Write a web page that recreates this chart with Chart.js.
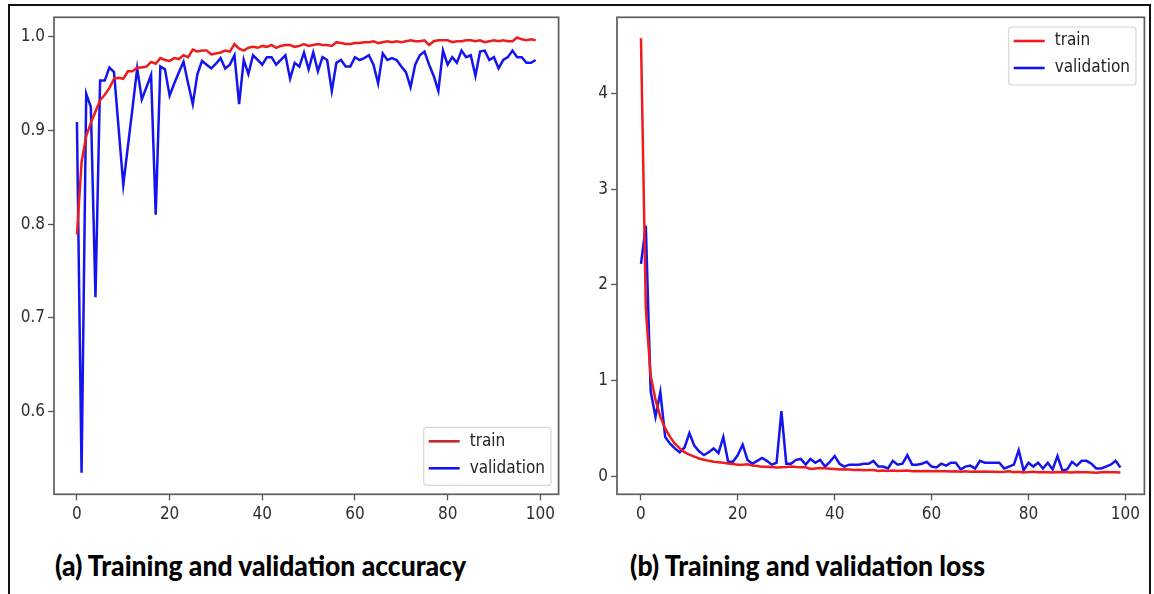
<!DOCTYPE html>
<html>
<head>
<meta charset="utf-8">
<script src="https://cdn.jsdelivr.net/npm/chart.js@4.4.1/dist/chart.umd.min.js"></script>
<style>
  html, body { margin: 0; padding: 0; background: #fff; width: 1154px; height: 594px; overflow: hidden; }
  #frame { position: absolute; left: 8px; top: 4px; width: 1143px; height: 620px; border: 2px solid #111; box-sizing: border-box; }
  canvas { position: absolute; }
  .cap { position: absolute; top: 547px; font-family: 'Lato', 'Open Sans', sans-serif; font-weight: 900; font-size: 29px; line-height: 36px; color: #000; white-space: nowrap; transform-origin: 0 0; }
</style>
</head>
<body>
<div id="frame"></div>
<canvas id="accChart" width="577" height="540" style="left:0;top:0"></canvas>
<canvas id="lossChart" width="577" height="540" style="left:577px;top:0"></canvas>
<div class="cap" id="capA" data-w="411" style="left:55px">(a) Training and validation accuracy</div>
<div class="cap" id="capB" data-w="355" style="left:630px">(b) Training and validation loss</div>
<script>
// ---------- data ----------
const epochs = Array.from({length: 100}, (_, i) => i);
const seriesNames = ['train', 'validation'];

const trainAcc = [0.789,0.866,0.894,0.908,0.920,0.932,0.938,0.945,0.955,0.956,
  0.955,0.963,0.963,0.967,0.967,0.968,0.973,0.971,0.977,0.975,
  0.974,0.977,0.976,0.980,0.978,0.986,0.984,0.985,0.985,0.981,
  0.982,0.983,0.985,0.984,0.992,0.987,0.985,0.988,0.989,0.988,
  0.990,0.989,0.991,0.988,0.990,0.991,0.991,0.989,0.990,0.992,
  0.990,0.991,0.992,0.991,0.991,0.990,0.994,0.993,0.992,0.992,
  0.993,0.993,0.994,0.994,0.995,0.993,0.994,0.995,0.994,0.995,
  0.994,0.995,0.996,0.995,0.995,0.996,0.991,0.995,0.996,0.996,
  0.996,0.994,0.995,0.995,0.996,0.996,0.995,0.996,0.994,0.995,
  0.996,0.995,0.996,0.995,0.995,0.999,0.997,0.996,0.997,0.996];

const valAcc = [0.909,0.535,0.939,0.925,0.722,0.953,0.953,0.967,0.962,0.902,
  0.842,0.883,0.924,0.966,0.933,0.946,0.959,0.810,0.968,0.965,
  0.937,0.950,0.962,0.973,0.950,0.928,0.960,0.974,0.970,0.966,
  0.971,0.977,0.966,0.970,0.980,0.928,0.975,0.960,0.980,0.975,
  0.970,0.978,0.978,0.970,0.975,0.980,0.955,0.972,0.968,0.983,
  0.965,0.983,0.963,0.978,0.975,0.942,0.972,0.975,0.968,0.968,
  0.978,0.975,0.977,0.980,0.970,0.950,0.982,0.975,0.977,0.975,
  0.968,0.962,0.946,0.970,0.980,0.984,0.970,0.958,0.942,0.985,
  0.970,0.978,0.972,0.985,0.978,0.980,0.958,0.984,0.985,0.975,
  0.978,0.966,0.975,0.978,0.985,0.978,0.978,0.972,0.972,0.975];

const trainLoss = [4.58,1.75,1.05,0.80,0.62,0.50,0.41,0.34,0.29,0.25,
  0.225,0.205,0.185,0.172,0.160,0.150,0.145,0.140,0.132,0.126,
  0.120,0.118,0.125,0.112,0.105,0.098,0.097,0.096,0.090,0.092,
  0.095,0.100,0.095,0.092,0.093,0.075,0.080,0.085,0.082,0.078,
  0.075,0.070,0.072,0.070,0.065,0.066,0.062,0.065,0.063,0.055,
  0.058,0.055,0.058,0.055,0.057,0.060,0.052,0.055,0.052,0.053,
  0.052,0.054,0.050,0.052,0.048,0.050,0.046,0.050,0.047,0.049,
  0.045,0.048,0.046,0.047,0.044,0.045,0.050,0.042,0.045,0.038,
  0.042,0.045,0.040,0.043,0.041,0.039,0.042,0.040,0.041,0.039,
  0.042,0.040,0.041,0.038,0.036,0.040,0.042,0.040,0.041,0.039];

const valLoss = [2.22,2.62,0.89,0.62,0.88,0.41,0.34,0.29,0.25,0.30,
  0.45,0.32,0.26,0.22,0.25,0.29,0.24,0.41,0.15,0.15,
  0.22,0.33,0.17,0.13,0.16,0.19,0.16,0.12,0.14,0.68,
  0.13,0.13,0.17,0.18,0.12,0.18,0.14,0.17,0.10,0.15,
  0.21,0.13,0.10,0.12,0.12,0.12,0.13,0.13,0.16,0.10,
  0.10,0.08,0.16,0.12,0.13,0.22,0.12,0.12,0.13,0.15,
  0.10,0.09,0.13,0.11,0.14,0.14,0.07,0.10,0.11,0.08,
  0.16,0.14,0.14,0.14,0.14,0.08,0.10,0.12,0.27,0.06,
  0.14,0.10,0.14,0.08,0.14,0.07,0.21,0.06,0.07,0.15,
  0.11,0.16,0.16,0.13,0.08,0.08,0.10,0.12,0.16,0.09];

const xTicks = [0, 20, 40, 60, 80, 100];
const accTicks = [0.6, 0.7, 0.8, 0.9, 1.0];
const lossTicks = [0, 1, 2, 3, 4];

// ---------- styling ----------
const RED = '#ee1c1c';
const BLUE = '#1414f0';
const TICK_FONT = { family: "'DejaVu Sans Condensed', 'DejaVu Sans', sans-serif", size: 17 };
const TEXT = '#2e2e2e';

const framePlugin = {
  id: 'frame',
  afterDraw(chart) {
    const a = chart.chartArea, c = chart.ctx;
    c.save();
    c.strokeStyle = '#5c5c5c';
    c.lineWidth = 1.7;
    c.strokeRect(a.left, a.top, a.right - a.left, a.bottom - a.top);
    c.restore();
  }
};

const boxLegend = {
  id: 'boxLegend',
  afterDraw(chart, args, opts) {
    const a = chart.chartArea, c = chart.ctx;
    c.save();
    c.font = TICK_FONT.size + 'px ' + TICK_FONT.family;
    const ds = chart.data.datasets;
    const tw = Math.max(...ds.map(d => c.measureText(d.label).width));
    const w = 5 + 31 + 10 + tw + 6, h = 58;
    const x = a.right - opts.dx - w;
    const y = opts.corner === 'br' ? a.bottom - opts.dy - h : a.top + opts.dy;
    c.fillStyle = 'rgba(255,255,255,0.9)';
    c.strokeStyle = '#d6d6d6';
    c.lineWidth = 1.2;
    c.beginPath();
    c.roundRect(x, y, w, h, 3);
    c.fill(); c.stroke();
    ds.forEach((d, i) => {
      const yy = y + 14 + i * 27;
      c.strokeStyle = opts.sampleColors ? opts.sampleColors[i] : d.borderColor;
      c.lineWidth = 2.6;
      c.beginPath(); c.moveTo(x + 5, yy); c.lineTo(x + 36, yy); c.stroke();
      c.fillStyle = '#222';
      c.textBaseline = 'middle';
      c.fillText(d.label, x + 46, yy);
    });
    c.restore();
  }
};

function makeChart(id, series, yTicks, yMin, yMax, yWidth, padR, legendOpts, fmt) {
  return new Chart(document.getElementById(id), {
    type: 'line',
    data: {
      labels: epochs,
      datasets: series.map((s, i) => ({
        label: seriesNames[i],
        data: s.map((v, k) => ({ x: epochs[k], y: v })),
        borderColor: i === 0 ? RED : BLUE,
        borderWidth: 2.5,
        pointRadius: 0,
        tension: 0,
        fill: false
      }))
    },
    options: {
      responsive: false,
      animation: false,
      devicePixelRatio: 1,
      layout: { padding: { left: 0, right: padR, top: 17.3, bottom: 5.7 } },
      plugins: { legend: { display: false }, tooltip: { enabled: false }, boxLegend: legendOpts },
      scales: {
        x: {
          type: 'linear', min: -4.95, max: 103.95,
          afterBuildTicks: s => { s.ticks = xTicks.map(v => ({ value: v })); },
          afterFit: s => { s.height = 40; },
          grid: { display: true, drawOnChartArea: false, drawTicks: true, tickLength: 6, tickColor: '#555', tickWidth: 1.3 },
          border: { display: false },
          ticks: { font: TICK_FONT, color: TEXT, padding: 4, maxRotation: 0, autoSkip: false }
        },
        y: {
          type: 'linear', min: yMin, max: yMax,
          afterBuildTicks: s => { s.ticks = yTicks.map(v => ({ value: v })); },
          afterFit: s => { s.width = yWidth; },
          grid: { display: true, drawOnChartArea: false, drawTicks: true, tickLength: 6, tickColor: '#555', tickWidth: 1.3 },
          border: { display: false },
          ticks: { font: TICK_FONT, color: TEXT, padding: 3, autoSkip: false, callback: fmt }
        }
      }
    },
    plugins: [framePlugin, boxLegend]
  });
}

makeChart('accChart', [trainAcc, valAcc], accTicks, 0.512, 1.0205, 54, 18.4,
  { corner: 'br', dx: 7.6, dy: 9, sampleColors: ['#c42b2b', BLUE] }, v => v.toFixed(1));
makeChart('lossChart', [trainLoss, valLoss], lossTicks, -0.19, 4.80, 40, 9.6,
  { corner: 'tr', dx: 8.4, dy: 9.7 }, v => String(v));

// fit captions to measured widths
document.querySelectorAll('.cap').forEach(el => {
  const w = el.getBoundingClientRect().width;
  const target = +el.dataset.w;
  el.style.transform = 'scaleX(' + (target / w) + ')';
});
</script>
</body>
</html>
